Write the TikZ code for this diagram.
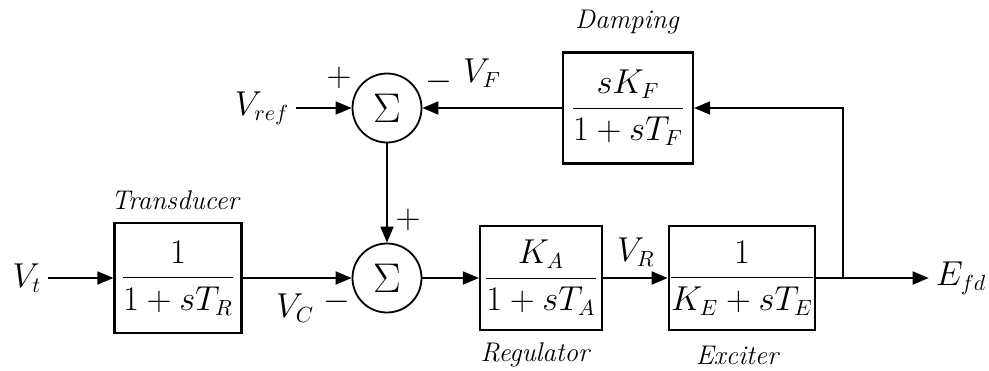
\documentclass[tikz,border=0pt]{standalone}
\usepackage{amsmath}
\usepackage{fontspec}
\usetikzlibrary{arrows.meta,positioning}

\tikzset{
  blk/.style={draw,line width=1.1pt,minimum width=#1,minimum height=53pt,inner sep=0pt,font=\fontsize{16}{19}\selectfont},
  sumnode/.style={circle,draw,line width=0.9pt,minimum size=34.5pt,inner sep=0pt,font=\fontsize{20}{24}\selectfont},
  sig/.style={-{Triangle[length=8pt,width=6.5pt]},line width=0.9pt},
  lbl/.style={font=\fontsize{16}{19}\selectfont},
  sgn/.style={font=\fontsize{16}{19}\selectfont,inner sep=1pt},
  blkname/.style={font=\fontsize{13.5}{16}\selectfont\itshape}
}

\begin{document}
\begin{tikzpicture}[x=0.5pt,y=-0.5pt]
  \useasboundingbox (0,0) rectangle (989,370);
  % blocks
  \node[blk=63.5pt,minimum height=55pt] (trans) at (178,278) {$\dfrac{1}{1+sT_R}$};
  \node[sumnode] (sumb) at (387,278) {$\Sigma$};
  \node[sumnode] (sumt) at (387,108) {$\Sigma$};
  \node[blk=61pt,minimum height=52pt] (reg) at (541,278) {$\dfrac{K_A}{1+sT_A}$};
  \node[blk=71.5pt,minimum height=52pt] (exc) at (742,278) {$\dfrac{1}{K_E+sT_E}$};
  \node[blk=65pt,minimum height=55.5pt] (damp) at (628,108) {$\dfrac{sK_F}{1+sT_F}$};
  % block names
  \node[blkname] (ntrans) at (175,200) {Transducer};
  \node[blkname] (nreg) at (535,355) {Regulator};
  \node[blkname] (nexc) at (737,355) {Exciter};
  \node[blkname] (ndamp) at (627,22) {Damping};
  % signals
  \node[lbl] (vt) at (27,278) {$V_t$};
  \node[lbl] (vref) at (262,108) {$V_{ref}$};
  \node[lbl] (efd) at (961,278) {$E_{fd}$};
  \node[lbl] (vf) at (482,73) {$V_F$};
  \node[lbl] (vc) at (295,308) {$V_C$};
  \node[lbl] (vr) at (636,252) {$V_R$};
  \node[sgn] (p1) at (339,78) {$+$};
  \node[sgn] (m1) at (439,82) {$-$};
  \node[sgn] (p2) at (408,220) {$+$};
  \node[sgn] (m2) at (337,302) {$-$};
  \coordinate (br) at (843,278);

  \draw[sig] (vt) -- (trans);
  \draw[sig] (trans) -- (sumb);
  \draw[sig] (sumb) -- (reg);
  \draw[sig] (reg) -- (exc);
  \draw[sig] (exc) -- (efd);
  \draw[sig] (br) |- (damp);
  \draw[sig] (damp) -- (sumt);
  \draw[sig] (vref) -- (sumt);
  \draw[sig] (sumt) -- (sumb);
\end{tikzpicture}
\end{document}
